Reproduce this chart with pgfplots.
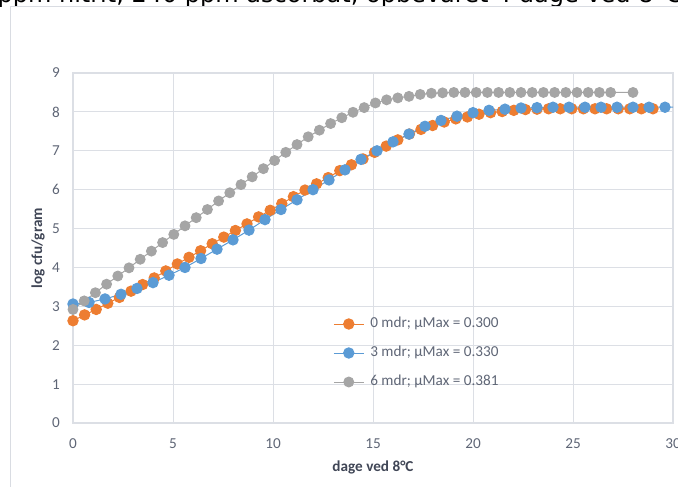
\documentclass[border=0pt]{standalone}
\usepackage{fontspec}
\setmainfont{Carlito}
\newfontfamily\titlefont{DejaVu Sans}
\usepackage{pgfplots}
\usepackage{pgfplotstable}
\pgfplotsset{compat=1.18}
\definecolor{cOrange}{HTML}{ED7D31}
\definecolor{cBlue}{HTML}{5B9BD5}
\definecolor{cGray}{HTML}{A5A5A5}
\definecolor{gridc}{HTML}{DCDFE5}
\definecolor{framec}{HTML}{D9DCE2}
\definecolor{tickc}{HTML}{5F6676}
\definecolor{titc}{HTML}{404656}

\pgfplotstableread{
x y
0.00 2.63
0.58 2.78
1.16 2.92
1.74 3.08
2.32 3.23
2.90 3.39
3.48 3.56
4.06 3.73
4.64 3.91
5.22 4.09
5.80 4.26
6.38 4.43
6.96 4.61
7.54 4.78
8.12 4.95
8.70 5.12
9.28 5.30
9.86 5.47
10.44 5.64
11.02 5.82
11.60 5.99
12.18 6.15
12.76 6.31
13.34 6.49
13.92 6.64
14.50 6.79
15.08 6.96
15.66 7.12
16.24 7.28
16.82 7.43
17.40 7.55
17.98 7.65
18.56 7.74
19.14 7.82
19.72 7.87
20.30 7.94
20.88 7.98
21.46 8.01
22.04 8.04
22.62 8.06
23.20 8.07
23.78 8.08
24.36 8.08
24.94 8.08
25.52 8.08
26.10 8.08
26.68 8.08
27.26 8.08
27.84 8.08
28.42 8.08
29.00 8.08
}\orange

\pgfplotstableread{
x y
0.0 3.06
0.8 3.10
1.6 3.19
2.4 3.31
3.2 3.46
4.0 3.61
4.8 3.80
5.6 4.00
6.4 4.23
7.2 4.47
8.0 4.71
8.8 4.96
9.6 5.23
10.4 5.49
11.2 5.74
12.0 6.00
12.8 6.25
13.6 6.51
14.4 6.78
15.2 7.00
16.0 7.23
16.8 7.43
17.6 7.63
18.4 7.78
19.2 7.89
20.0 7.98
20.8 8.04
21.6 8.07
22.4 8.10
23.2 8.11
24.0 8.12
24.8 8.12
25.6 8.12
26.4 8.12
27.2 8.12
28.0 8.12
28.8 8.12
29.6 8.12
30.4 8.12
}\blue

\pgfplotstableread{
x y
0.00 2.92
0.56 3.14
1.12 3.35
1.68 3.57
2.24 3.78
2.80 3.99
3.36 4.21
3.92 4.42
4.48 4.64
5.04 4.85
5.60 5.07
6.16 5.28
6.72 5.49
7.28 5.71
7.84 5.92
8.40 6.13
8.96 6.33
9.52 6.54
10.08 6.75
10.64 6.96
11.20 7.16
11.76 7.36
12.32 7.53
12.88 7.70
13.44 7.85
14.00 7.99
14.56 8.11
15.12 8.23
15.68 8.31
16.24 8.36
16.80 8.40
17.36 8.45
17.92 8.48
18.48 8.49
19.04 8.50
19.60 8.50
20.16 8.50
20.72 8.50
21.28 8.50
21.84 8.50
22.40 8.50
22.96 8.50
23.52 8.50
24.08 8.50
24.64 8.50
25.20 8.50
25.76 8.50
26.32 8.50
26.88 8.50
28.00 8.50
}\gray

\begin{document}
\begin{tikzpicture}
\useasboundingbox (0,0) rectangle (508.5pt,364.5pt);
\clip (0,0) rectangle (508.5pt,364.5pt);
\node[anchor=base west, inner sep=0pt, font=\titlefont\fontsize{18}{20}\selectfont, text=black] at (-2pt,362.25pt) {ppm nitrit, 240 ppm ascorbat, opbevaret 4 dage ved 8°C};
\draw[framec, line width=0.75pt] (7.5pt,-5pt) -- (7.5pt,359.25pt) -- (530pt,359.25pt);
\begin{axis}[
  at={(54.75pt,47.25pt)}, anchor=south west,
  scale only axis, width=450pt, height=262.5pt,
  xmin=0, xmax=30, ymin=0, ymax=9,
  xtick={0,5,...,30}, ytick={0,1,...,9},
  /pgf/number format/assume math mode=true,
  grid=major, grid style={gridc, line width=0.75pt},
  axis line style={gridc, line width=0.9pt},
  tick style={draw=none},
  font=\fontsize{11.4}{13}\selectfont,
  tick label style={text=tickc, font=\fontsize{11.4}{13}\selectfont},
  yticklabel style={anchor=east, inner sep=0pt, xshift=-9.75pt},
  xticklabel style={anchor=base, inner sep=0pt, yshift=-18.75pt},
  every axis x label/.style={at={(axis description cs:0.5,-0.1257)}, anchor=center, font=\bfseries\fontsize{11.4}{13}\selectfont, text=titc},
  every axis y label/.style={at={(axis description cs:-0.0583,0.5)}, anchor=center, rotate=90, font=\bfseries\fontsize{11.4}{13}\selectfont, text=titc},
  xlabel={dage ved 8°C},
  ylabel={log cfu/gram},
  legend cell align=left,
  legend style={draw=none, fill=none, at={(axis cs:13,1.80)}, anchor=west,
    inner sep=0pt, row sep=11.25pt, column sep=4.5pt, text=tickc,
    nodes={inner sep=0pt, text height=8pt, text depth=2.5pt}},
  legend image code/.code={
    \draw[#1, mark=none] (0pt,0pt) -- (22.5pt,0pt);
    \draw[#1, only marks] plot coordinates {(11.25pt,0pt)};
  },
]
\addplot[cOrange, line width=0.75pt, mark=*, mark size=3.9pt, mark options={fill=cOrange, draw=cOrange}] table[x=x,y=y] {\orange};
\addlegendentry{0 mdr; µMax = 0.300}
\addplot[cBlue, line width=0.75pt, mark=*, mark size=3.9pt, mark options={fill=cBlue, draw=cBlue}] table[x=x,y=y] {\blue};
\addlegendentry{3 mdr; µMax = 0.330}
\addplot[cGray, line width=0.75pt, mark=*, mark size=3.7pt, mark options={fill=cGray, draw=cGray}] table[x=x,y=y] {\gray};
\addlegendentry{6 mdr; µMax = 0.381}
\end{axis}
\end{tikzpicture}
\end{document}
